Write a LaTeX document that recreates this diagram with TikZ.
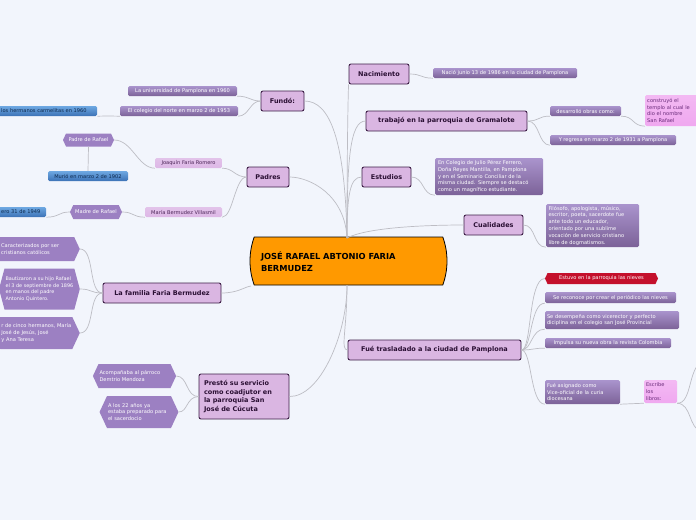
\documentclass[tikz,border=0pt]{standalone}
\usepackage{fontspec}
\setmainfont{DejaVu Sans}
\usetikzlibrary{shapes.symbols,shapes.misc}

\definecolor{bgcol}{HTML}{F2F5FC}
\definecolor{topicfill}{HTML}{DAB6E2}
\definecolor{topicline}{HTML}{3E1F47}
\definecolor{topictext}{HTML}{2A0F33}
\definecolor{subtop}{HTML}{AA94CD}
\definecolor{subbot}{HTML}{7C6298}
\definecolor{hexfill}{HTML}{9C80C2}
\definecolor{bluetop}{HTML}{6EA8E2}
\definecolor{bluebot}{HTML}{3C72B6}
\definecolor{bluetext}{HTML}{0E2A4F}
\definecolor{palefill}{HTML}{DDB8E6}
\definecolor{paletext}{HTML}{4B2557}
\definecolor{pinkfill}{HTML}{F0A8F0}
\definecolor{pinktext}{HTML}{6A2C7A}
\definecolor{redfill}{HTML}{C4102C}
\definecolor{rootfill}{HTML}{FF9900}
\definecolor{linkcol}{HTML}{BDBDC4}

\newcommand{\smalltxt}{\fontsize{5.1}{6.8}\selectfont}

\tikzset{
  topic/.style={draw=topicline, fill=topicfill, rounded corners=2pt, line width=0.9pt,
    text=topictext, font=\fontsize{6.5}{8.6}\selectfont\bfseries, minimum height=20pt, inner sep=1pt},
  sub/.style={top color=subtop, bottom color=subbot, rounded corners=1.5pt, text=white,
    font=\smalltxt, minimum height=10pt, inner sep=1pt},
  bluesub/.style={sub, top color=bluetop, bottom color=bluebot, text=bluetext},
  palesub/.style={sub, top color=palefill!85!white, bottom color=palefill, text=paletext},
  pinksub/.style={sub, top color=pinkfill!80!white, bottom color=pinkfill, text=pinktext},
  hexa/.style={signal, signal to=west and east, signal pointer angle=130, fill=hexfill,
    text=white, font=\smalltxt, inner sep=1pt},
  multi/.style={align=left, text width=#1},
  link/.style={draw=linkcol, line width=0.7pt},
}

\begin{document}
\begin{tikzpicture}[x=1pt,y=-1pt]
\useasboundingbox (0,0) rectangle (696,520);
\fill[bgcol] (0,0) rectangle (696,520);

%root
\node[rounded rectangle, rounded rectangle arc length=40, draw=black, line width=0.8pt,
  fill=rootfill, minimum width=197pt, minimum height=48pt, inner sep=0pt]
  (root) at (348.5,261) {};
\node[font=\fontsize{8.3}{12}\selectfont\bfseries, text=black, align=left, text width=175pt,
  inner sep=0pt] (rootText) at (348.5,262) {JOSÉ RAFAEL ABTONIO FARIA\\BERMUDEZ};
\coordinate (cT) at (347,238);
\coordinate (cB) at (347,285);
\coordinate (cL) at (251,286);

%main topics
\node[topic, minimum width=60pt] (nac) at (379,74) {Nacimiento};
\node[topic, minimum width=161pt] (gram) at (446.5,121) {trabajó en la parroquia de Gramalote};
\node[topic, minimum width=49pt] (estu) at (386.5,177) {Estudios};
\node[topic, minimum width=59pt] (cual) at (493.5,225) {Cualidades};
\node[topic, minimum width=173pt] (trasl) at (434.5,350) {Fué trasladado a la ciudad de Pamplona};
\node[topic, minimum width=43pt] (fundo) at (282.5,101) {Fundó:};
\node[topic, minimum width=42pt] (padres) at (268,177) {Padres};
\node[topic, minimum width=118pt] (familia) at (162,293) {La familia Faria Bermudez};
\node[topic, minimum width=90pt, minimum height=45pt, multi=80pt] (presto) at (244,396.5)
  {Prestó su servicio\\como coadjutor en\\la parroquia San\\José de Cúcuta};

\draw[link] (cT) .. controls (347,150) and (348,100) .. (nac.south west);
\draw[link] (cT) .. controls (347,160) and (350,121) .. (gram.west);
\draw[link] (cT) .. controls (347,195) and (350,177) .. (estu.west);
\draw[link] (cT) .. controls (370,226) and (440,225) .. (cual.west);
\draw[link] (cT) .. controls (345,140) and (330,101) .. (fundo.east);
\draw[link] (cT) .. controls (345,195) and (310,177) .. (padres.east);
\draw[link] (familia.east) .. controls (238,293) and (244,287) .. (cL);
\draw[link] (cB) .. controls (347,335) and (320,397) .. (presto.east);
\draw[link] (cB) .. controls (347,330) and (340,350) .. (trasl.west);

%Fundo
\node[sub, minimum width=109pt] (univ) at (182.5,91) {La universidad de Pamplona en 1960};
\node[sub, minimum width=118pt] (colegio) at (179,111) {El colegio del norte en marzo 2 de 1953};
\node[bluesub, anchor=west, inner xsep=5pt, text width=91pt, align=left] (carmel) at (-4,111)
  {los hermanos carmelitas en 1960};
\draw[link] (fundo.west) .. controls (250,101) and (249,96) .. (univ.south east);
\draw[link] (fundo.west) .. controls (250,101) and (249,116) .. (colegio.south east);
\draw[link] (colegio.south west) .. controls (110,116) and (105,116) .. (carmel.south east);

%Padres
\node[palesub, minimum width=67pt] (joaq) at (188.5,163) {Joaquín Faria Romero};
\node[palesub, minimum width=77pt] (maria) at (183.5,212) {María Bermudez Villasmil};
\node[hexa, minimum width=51pt, minimum height=13pt] (padreR) at (88.5,140) {Padre de Rafael};
\node[bluesub, minimum width=80pt] (murio) at (88,176) {Murió en marzo 2 de 1902};
\node[hexa, minimum width=52pt, minimum height=14pt] (madreR) at (96,212) {Madre de Rafael};
\node[bluesub, anchor=west, inner xsep=5pt, text width=40pt, align=left] (murioB) at (-4,212)
  {ero 31 de 1949};
\draw[link] (padres.west) .. controls (235,177) and (233,168) .. (joaq.south east);
\draw[link] (padres.west) .. controls (235,177) and (233,217) .. (maria.south east);
\draw[link] (joaq.south west) .. controls (138,168) and (132,140) .. (padreR.east);
\draw[link] (padreR.south) -- (murio.north);
\draw[link] (maria.south west) .. controls (132,217) and (134,212) .. (madreR.east);
\draw[link] (madreR.west) .. controls (58,212) and (60,217) .. (murioB.south east);

%Familia
\node[hexa, anchor=east, minimum height=24pt, multi=72pt] (famA) at (80,249)
  {Caracterizados por ser\\cristianos católicos};
\node[hexa, anchor=east, minimum height=41pt, signal pointer angle=150, align=left,
  font=\fontsize{4.9}{6.6}\selectfont] (famB) at (80,289)
  {Bautizaron a su hijo Rafael\\el 3 de septiembre de 1896\\en manos del padre\\Antonio Quintero.};
\node[hexa, anchor=east, minimum height=32pt, multi=70pt] (famC) at (80,333)
  {r de cinco hermanos, María\\ José de Jesús, José\\y Ana Teresa};
\draw[link] (familia.west) .. controls (88,293) and (95,249) .. (famA.east);
\draw[link] (familia.west) .. controls (90,293) and (92,289) .. (famB.east);
\draw[link] (familia.west) .. controls (88,293) and (95,333) .. (famC.east);

%Presto
\node[hexa, minimum width=81pt, minimum height=24pt, multi=70pt] (acomp) at (134.5,376)
  {Acompañaba al párroco\\Demtrio Mendoza};
\node[hexa, minimum width=72pt, minimum height=32pt, multi=62pt] (edad) at (139,412)
  {A los 22 años ya\\estaba preparado para\\el sacerdocio};
\draw[link] (presto.west) .. controls (186,397) and (188,376) .. (acomp.east);
\draw[link] (presto.west) .. controls (186,397) and (188,412) .. (edad.east);

%Nacimiento, Gramalote
\node[sub, minimum width=144pt] (nacio) at (505,73) {Nació junio 13 de 1986 en la ciudad de Pamplona};
\node[sub, minimum width=71pt] (desarr) at (585.5,111) {desarrolló obras como:};
\node[pinksub, anchor=west, minimum width=60pt, minimum height=31pt, multi=56pt] (constr) at (645,110.5)
  {construyó el\\templo al cual le\\dio el nombre\\San Rafael};
\node[sub, minimum width=126pt] (regresa) at (613,140) {Y regresa en marzo 2 de 1931 a Pamplona};
\draw[link] (nac.east) .. controls (422,74) and (420,78) .. (nacio.south west);
\draw[link] (gram.east) .. controls (540,121) and (538,116) .. (desarr.south west);
\draw[link] (gram.east) .. controls (540,121) and (538,145) .. (regresa.south west);
\draw[link] (desarr.south east) .. controls (634,116) and (632,126) .. (constr.south west);

%Estudios, Cualidades
\node[sub, minimum width=108pt, minimum height=37pt, multi=102pt] (estT) at (489,176.5)
  {En Colegio de Julio Pérez Ferrero,\\Doña Reyes Mantilla, en Pamplona\\y en el Seminario Conciliar de la\\misma ciudad. Siempre se destacó\\como un magnífico estudiante.};
\node[sub, minimum width=93pt, minimum height=43pt, multi=88pt] (cualT) at (592.5,225.5)
  {Filósofo, apologista, músico,\\escritor, poeta, sacerdote fue\\ante todo un educador,\\orientado por una sublime\\vocación de servicio cristiano\\libre de dogmatismos.};
\draw[link] (estu.east) .. controls (424,177) and (422,195) .. (estT.south west);
\draw[link] (cual.east) .. controls (536,225) and (533,247) .. (cualT.south west);

%Trasladado
\node[hexa, fill=redfill, minimum width=113pt, minimum height=11pt] (nieves) at (601.5,278.5)
  {Estuvo en la parroquia las nieves};
\node[sub, minimum width=131pt, minimum height=11pt] (perio) at (610.5,297.5)
  {Se reconoce por crear el periódico las nieves};
\node[sub, minimum width=134pt, minimum height=18pt, multi=130pt] (vice) at (612,320)
  {Se desempeña como vicerector y perfecto\\diciplina en el colegio san José Provincial};
\node[sub, minimum width=126pt] (revista) at (608,343) {Impulsa su nueva obra la revista Colombia};
\node[sub, minimum width=75pt, minimum height=24pt, multi=71pt] (asign) at (582.5,392)
  {Fué asignado como\\Vice-oficial de la curia\\diocesana};
\node[pinksub, minimum width=33pt, minimum height=23pt, multi=29pt] (escribe) at (660.5,391.5)
  {Escribe\\los\\libros:};
\coordinate (offUp) at (702,362);
\coordinate (offDown) at (702,432);
\draw[link] (trasl.east) .. controls (532,350) and (528,279) .. (nieves.west);
\draw[link] (trasl.east) .. controls (532,350) and (530,303) .. (perio.south west);
\draw[link] (trasl.east) .. controls (532,350) and (531,329) .. (vice.south west);
\draw[link] (trasl.east) .. controls (533,350) and (534,348) .. (revista.south west);
\draw[link] (trasl.east) .. controls (532,350) and (530,404) .. (asign.south west);
\draw[link] (asign.south east) -- (escribe.south west);
\draw[link] (escribe.south east) .. controls (692,404) and (688,368) .. (offUp);
\draw[link] (escribe.south east) .. controls (692,404) and (688,428) .. (offDown);

\end{tikzpicture}
\end{document}
